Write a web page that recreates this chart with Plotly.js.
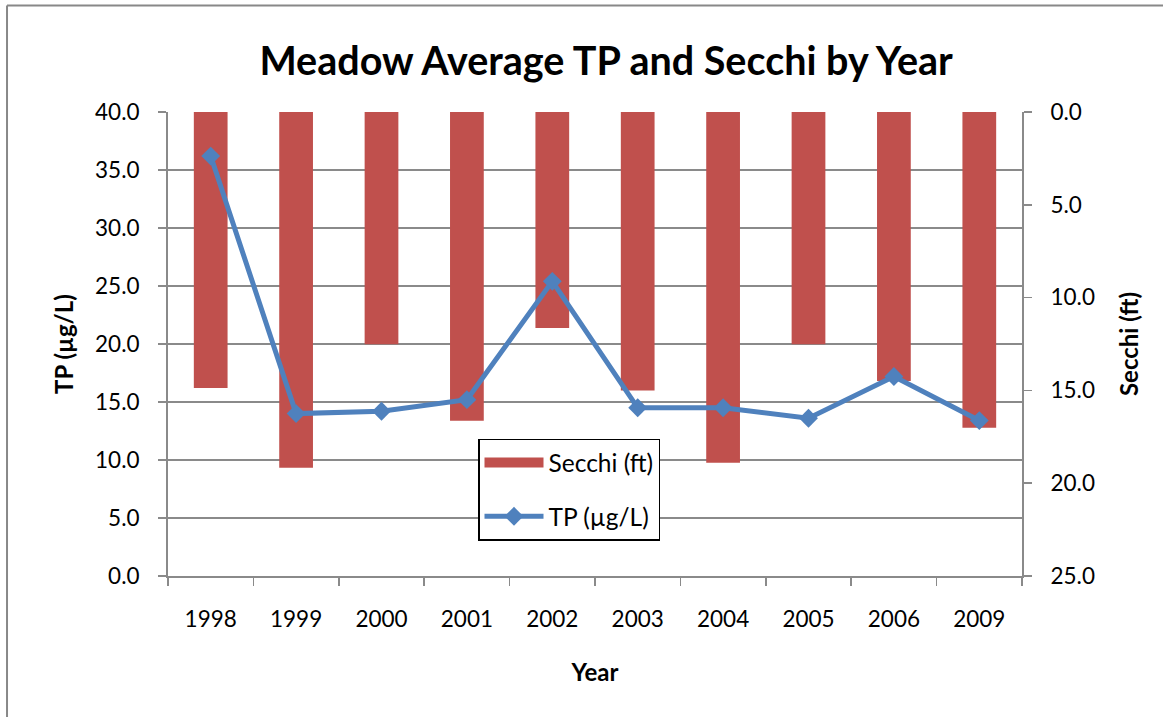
<!DOCTYPE html>
<html>
<head>
<meta charset="utf-8">
<script src="https://cdn.plot.ly/plotly-3.0.1.min.js"></script>
<style>html,body{margin:0;padding:0;background:#fff;}#chart{width:1163px;height:717px;}</style>
</head>
<body>
<div id="chart"></div>
<script>
var years = ["1998","1999","2000","2001","2002","2003","2004","2005","2006","2009"];
var secchi = [14.87, 19.17, 12.52, 16.64, 11.64, 15.0, 18.9, 12.52, 14.5, 17.01];
var tp = [36.2, 14.0, 14.2, 15.2, 25.4, 14.5, 14.5, 13.6, 17.2, 13.4];
var leftTicks = [0,5,10,15,20,25,30,35,40];
var rightTicks = [0,5,10,15,20,25];

var FONT = "Lato, 'Open Sans', sans-serif";
var GRID = "#8a8a8a";
var TICKSIZE = 22.5;
var TITLESIZE = 24;

var traces = [
  {
    type: "bar", name: "Secchi (ft)", x: years, y: secchi, yaxis: "y",
    width: 0.395, marker: {color: "#C0504D"}, showlegend: false
  },
  {
    type: "scatter", mode: "lines", name: "Secchi (ft)", x: [null], y: [null], yaxis: "y",
    line: {color: "#C0504D", width: 15}, legendgroup: "a", hoverinfo: "skip"
  },
  {
    type: "scatter", mode: "lines+markers", name: "TP (µg/L)", x: years, y: tp, yaxis: "y2",
    line: {color: "#4F81BD", width: 5}, legendgroup: "b",
    marker: {symbol: "diamond", size: 14.5, color: "#4F81BD"}
  }
];

var layout = {
  width: 1163, height: 717,
  margin: {l: 168, r: 141, t: 112, b: 141},
  paper_bgcolor: "#ffffff", plot_bgcolor: "#ffffff",
  font: {family: FONT, size: TICKSIZE, color: "#000"},
  title: {
    text: "<b>Meadow Average TP and Secchi by Year</b>",
    font: {family: FONT, size: 39.5, color: "#000"},
    xref: "paper", x: 0.513, xanchor: "center",
    yref: "container", y: 0.915, yanchor: "middle"
  },
  xaxis: {
    type: "category", categoryorder: "array", categoryarray: years,
    range: [-0.5, 9.5], autorange: false,
    tickson: "boundaries", ticks: "outside", ticklen: 8, tickwidth: 1.5, tickcolor: GRID,
    showline: true, linecolor: GRID, linewidth: 2, showgrid: false, zeroline: false,
    ticklabelstandoff: 22,
    title: {text: "<b>Year</b>", font: {family: FONT, size: TITLESIZE}, standoff: 33},
    tickfont: {family: FONT, size: TICKSIZE}
  },
  yaxis: {
    side: "right", range: [25, 0], tickvals: rightTicks, tickformat: ".1f",
    ticks: "outside", ticklen: 8, tickwidth: 1.5, tickcolor: GRID,
    showline: true, linecolor: GRID, linewidth: 2,
    showgrid: false, zeroline: false,
    ticklabelstandoff: 14,
    title: {text: "<b>Secchi (ft)</b>", font: {family: FONT, size: TITLESIZE}, standoff: 27},
    tickfont: {family: FONT, size: TICKSIZE}
  },
  yaxis2: {
    overlaying: "y", side: "left", range: [0, 40], tickvals: leftTicks, tickformat: ".1f",
    ticks: "outside", ticklen: 8, tickwidth: 1.5, tickcolor: GRID,
    showline: true, linecolor: GRID, linewidth: 2,
    showgrid: true, gridcolor: GRID, gridwidth: 1.5, zeroline: false,
    ticklabelstandoff: 14,
    title: {text: "<b>TP (µg/L)</b>", font: {family: FONT, size: TITLESIZE}, standoff: 15},
    tickfont: {family: FONT, size: TICKSIZE}
  },
  legend: {
    x: 0.363, y: 0.2963, xanchor: "left", yanchor: "top",
    bgcolor: "#ffffff", bordercolor: "#000", borderwidth: 1.5,
    font: {family: FONT, size: 24.5}, traceorder: "grouped", tracegroupgap: 19, itemwidth: 59
  },
  shapes: [
    {type: "line", xref: "paper", yref: "paper", x0: -0.1885, x1: -0.1885, y0: 1.2295, y1: -0.31, line: {color: "#888", width: 2}},
    {type: "line", xref: "paper", yref: "paper", x0: -0.1885, x1: 1.17, y0: 1.2295, y1: 1.2295, line: {color: "#888", width: 2}}
  ],
  showlegend: true, hovermode: false
};

Plotly.newPlot("chart", traces, layout, {displayModeBar: false, staticPlot: true});
</script>
</body>
</html>
